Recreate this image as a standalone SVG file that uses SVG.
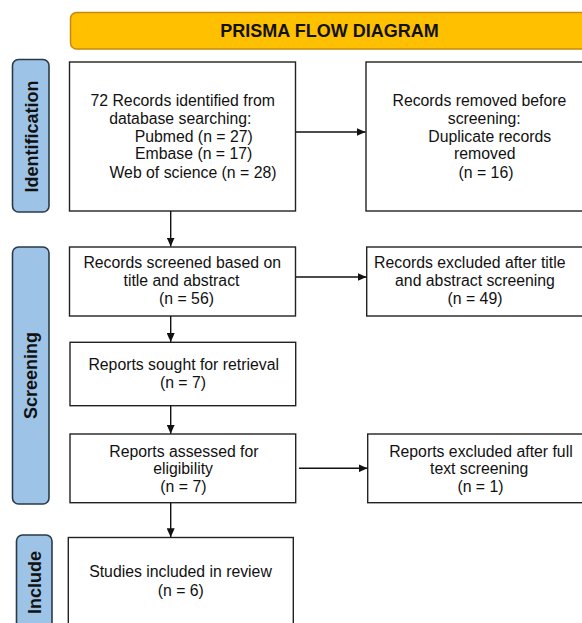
<svg xmlns="http://www.w3.org/2000/svg" width="582" height="623" viewBox="0 0 582 623">
<defs>
<style>
.box{fill:#fff;stroke:#222;stroke-width:1.4}
.lbl{fill:#9DC3E6;stroke:#2B3A4A;stroke-width:1.6}
.t{font-family:"Liberation Sans",Arial,sans-serif;font-size:15.8px;fill:#111;text-anchor:middle}
.lt{font-family:"Liberation Sans",Arial,sans-serif;font-size:18px;font-weight:bold;fill:#111;text-anchor:middle}
.conn line{stroke:#111;stroke-width:1.4;marker-end:url(#ah)}
</style>
<marker id="ah" markerUnits="userSpaceOnUse" markerWidth="9" markerHeight="8" refX="9" refY="4" orient="auto">
<path d="M0,0 L9,4 L0,8 z" fill="#111"/>
</marker>
</defs>
<rect width="582" height="623" fill="#fff"/>

<g id="title">
<rect x="70.5" y="12.5" width="540" height="36.5" rx="6" fill="#FFC000" stroke="#C8890C" stroke-width="1.5"/>
<text x="329.5" y="37.3" font-family="Liberation Sans,Arial,sans-serif" font-size="18" font-weight="bold" fill="#111" text-anchor="middle">PRISMA FLOW DIAGRAM</text>
</g>

<g id="label-identification">
<rect class="lbl" x="12.5" y="59.5" width="36.5" height="152.5" rx="6"/>
<text class="lt" transform="translate(38 136.5) rotate(-90)">Identification</text>
</g>
<g id="label-screening">
<rect class="lbl" x="12.5" y="247" width="36.5" height="257" rx="6"/>
<text class="lt" transform="translate(37 375.5) rotate(-90)">Screening</text>
</g>
<g id="label-include">
<rect class="lbl" x="16.5" y="535" width="35.5" height="100" rx="6"/>
<text class="lt" transform="translate(41 582.5) rotate(-90)">Include</text>
</g>

<g id="records-identified">
<rect class="box" x="69.5" y="62" width="226" height="149"/>
<text class="t" x="182.7" y="106">72 Records identified from</text>
<text class="t" x="180.3" y="124">database searching:</text>
<text class="t" x="193.7" y="141.7">Pubmed (n = 27)</text>
<text class="t" x="193.7" y="159.3">Embase (n = 17)</text>
<text class="t" x="193" y="177.7">Web of science (n = 28)</text>
</g>

<g id="records-removed">
<rect class="box" x="366" y="62" width="240" height="149"/>
<text class="t" x="479.4" y="106">Records removed before</text>
<text class="t" x="484.2" y="124">screening:</text>
<text class="t" x="489.8" y="141.7">Duplicate records</text>
<text class="t" x="484.8" y="159.3">removed</text>
<text class="t" x="486" y="177.7">(n = 16)</text>
</g>

<g id="records-screened">
<rect class="box" x="69.5" y="247" width="226" height="69"/>
<text class="t" x="182.2" y="268.3">Records screened based on</text>
<text class="t" x="181.5" y="286">title and abstract</text>
<text class="t" x="186.5" y="303.5">(n = 56)</text>
</g>

<g id="records-excluded">
<rect class="box" x="366.7" y="247" width="240" height="69"/>
<text class="t" x="469.8" y="268.3">Records excluded after title</text>
<text class="t" x="475" y="286">and abstract screening</text>
<text class="t" x="475" y="303.5">(n = 49)</text>
</g>

<g id="reports-sought">
<rect class="box" x="70" y="342.3" width="225.7" height="63.4"/>
<text class="t" x="183.7" y="370">Reports sought for retrieval</text>
<text class="t" x="183" y="387.7">(n = 7)</text>
</g>

<g id="reports-assessed">
<rect class="box" x="70" y="434" width="225.7" height="68.7"/>
<text class="t" x="183.9" y="457.3">Reports assessed for</text>
<text class="t" x="183.1" y="474.3">eligibility</text>
<text class="t" x="183.4" y="492">(n = 7)</text>
</g>

<g id="reports-excluded">
<rect class="box" x="367.7" y="434" width="240" height="68.7"/>
<text class="t" x="480.9" y="457.3">Reports excluded after full</text>
<text class="t" x="479.2" y="474.3">text screening</text>
<text class="t" x="480.5" y="492">(n = 1)</text>
</g>

<g id="studies-included">
<rect class="box" x="68.3" y="537.5" width="225" height="100"/>
<text class="t" x="180.5" y="577.3">Studies included in review</text>
<text class="t" x="180.8" y="595.5">(n = 6)</text>
</g>

<g id="connectors" class="conn">
<line x1="296" y1="132" x2="365.5" y2="132"/>
<line x1="170.7" y1="211" x2="170.7" y2="246.5"/>
<line x1="296" y1="277" x2="366.5" y2="277"/>
<line x1="170.7" y1="316" x2="170.7" y2="342"/>
<line x1="170.7" y1="405.7" x2="170.7" y2="433.8"/>
<line x1="299" y1="468.3" x2="367.5" y2="468.3"/>
<line x1="170.7" y1="502.7" x2="170.7" y2="537.3"/>
</g>
</svg>
